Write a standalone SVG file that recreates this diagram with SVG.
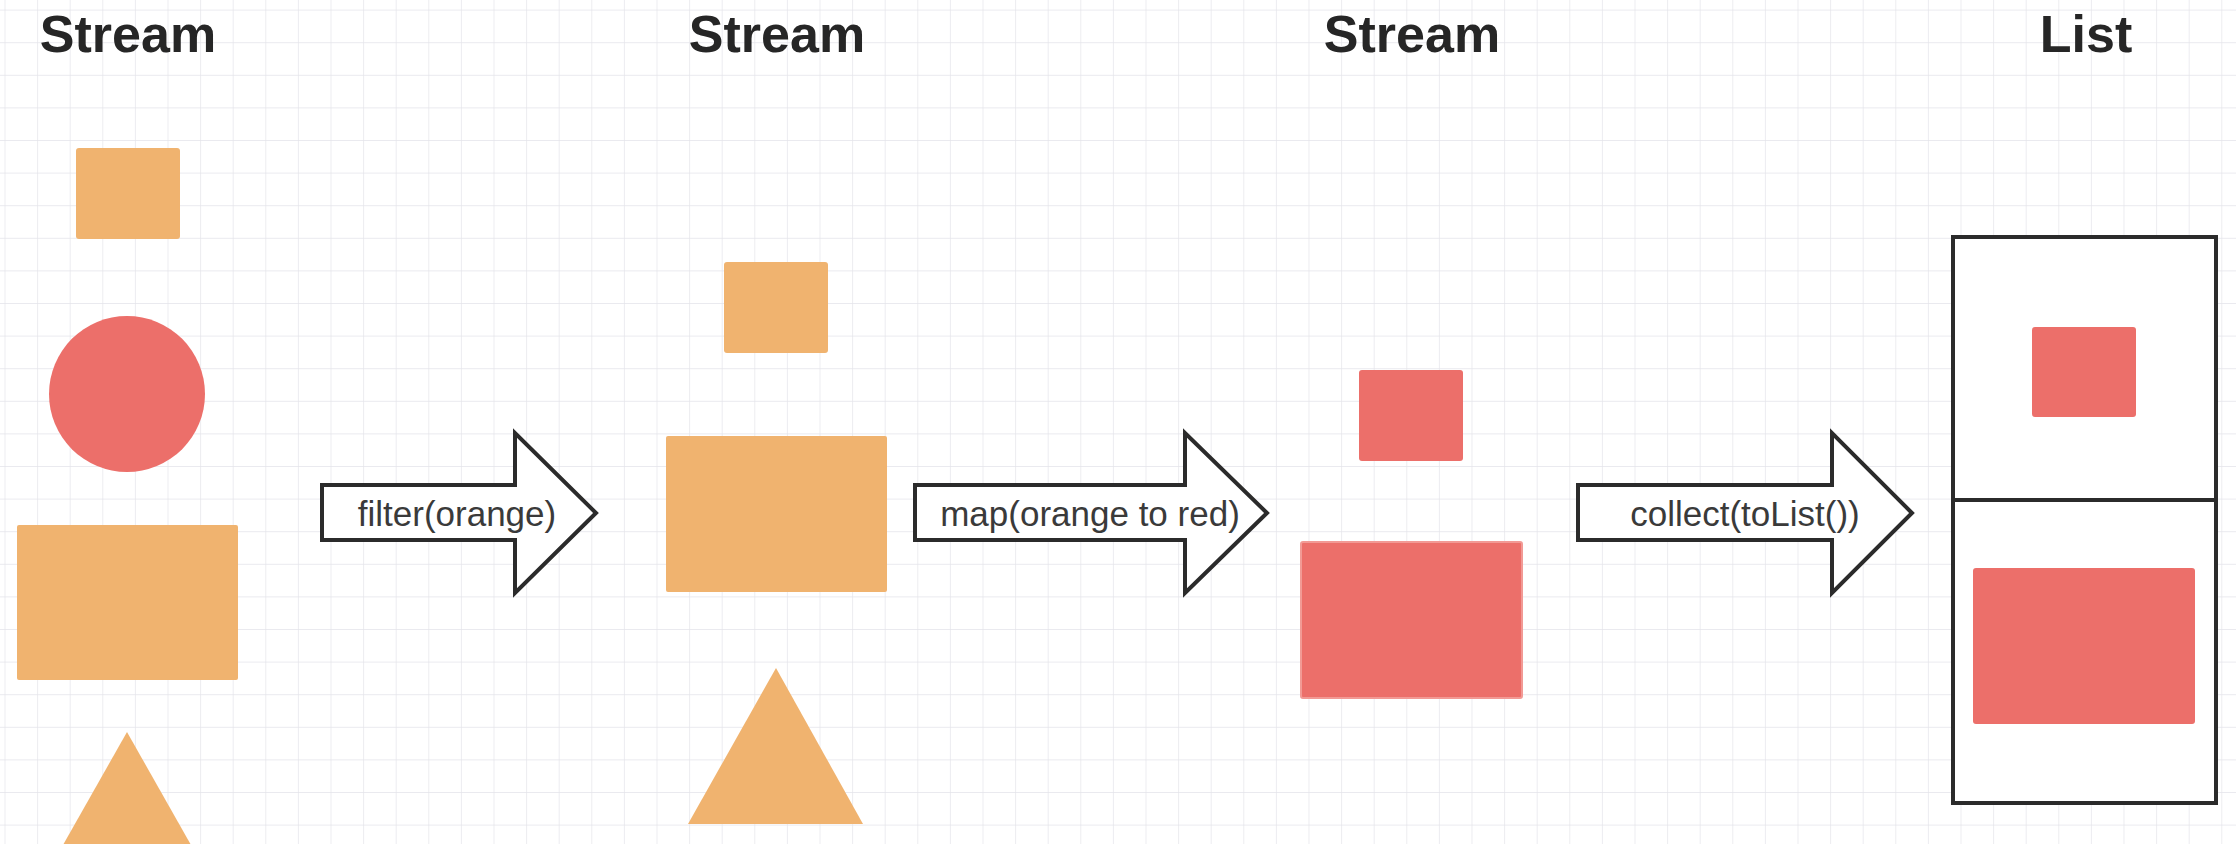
<svg xmlns="http://www.w3.org/2000/svg" width="2236" height="844" viewBox="0 0 2236 844">
<style>
.title{font-family:"Liberation Sans",Arial,sans-serif;font-weight:bold;font-size:52px;fill:#262626;text-anchor:middle}
.lbl{font-family:"Liberation Sans",Arial,sans-serif;font-size:35px;fill:#3a3a3a;text-anchor:middle}
.org{fill:#F0B36F}
.red{fill:#EC6F6A}
.arrow{fill:#ffffff;stroke:#2b2b2b;stroke-width:4;stroke-linejoin:miter}
.box{fill:#ffffff;stroke:#2b2b2b;stroke-width:4}
</style>
<defs>
<pattern id="grid" patternUnits="userSpaceOnUse" x="4.5" y="9.6" width="32.6" height="32.6">
<path d="M0 0H32.6M0 0V32.6" fill="none" stroke="#e4e4ea" stroke-width="1.4"/>
</pattern>
</defs>
<rect width="2236" height="844" fill="#ffffff"/>
<rect width="2236" height="844" fill="url(#grid)"/>

<g id="stream1">
<text class="title" x="128" y="52">Stream</text>
<rect class="org" x="76" y="148" width="104" height="91" rx="3"/>
<circle class="red" cx="127" cy="394" r="78"/>
<rect class="org" x="17" y="525" width="221" height="155" rx="2"/>
<polygon class="org" points="127,732 63,845 191,845"/>
</g>

<g id="stream2">
<text class="title" x="777" y="52">Stream</text>
<rect class="org" x="724" y="262" width="104" height="91" rx="3"/>
<rect class="org" x="666" y="436" width="221" height="156" rx="2"/>
<polygon class="org" points="776,668 688,824 863,824"/>
</g>

<g id="stream3">
<text class="title" x="1412" y="52">Stream</text>
<rect class="red" x="1359" y="370" width="104" height="91" rx="3"/>
<rect class="red" x="1301" y="542" width="221" height="156" rx="2" stroke="#f29a95" stroke-width="2"/>
</g>

<g id="list">
<text class="title" x="2086" y="52">List</text>
<rect class="box" x="1953" y="237" width="263" height="566"/>
<line x1="1953" y1="500" x2="2216" y2="500" stroke="#2b2b2b" stroke-width="4"/>
<rect class="red" x="2032" y="327" width="104" height="90" rx="3"/>
<rect class="red" x="1973" y="568" width="222" height="156" rx="3"/>
</g>

<g id="connectors">
<g id="filter">
<polygon class="arrow" points="322,485 515,485 515,433 596,513 515,593 515,540 322,540"/>
<text class="lbl" x="457" y="526">filter(orange)</text>
</g>
<g id="map">
<polygon class="arrow" points="915,485 1185,485 1185,433 1267,513 1185,593 1185,540 915,540"/>
<text class="lbl" x="1090" y="526">map(orange to red)</text>
</g>
<g id="collect">
<polygon class="arrow" points="1578,485 1832,485 1832,433 1912,513 1832,593 1832,540 1578,540"/>
<text class="lbl" x="1745" y="526">collect(toList())</text>
</g>
</g>
</svg>
